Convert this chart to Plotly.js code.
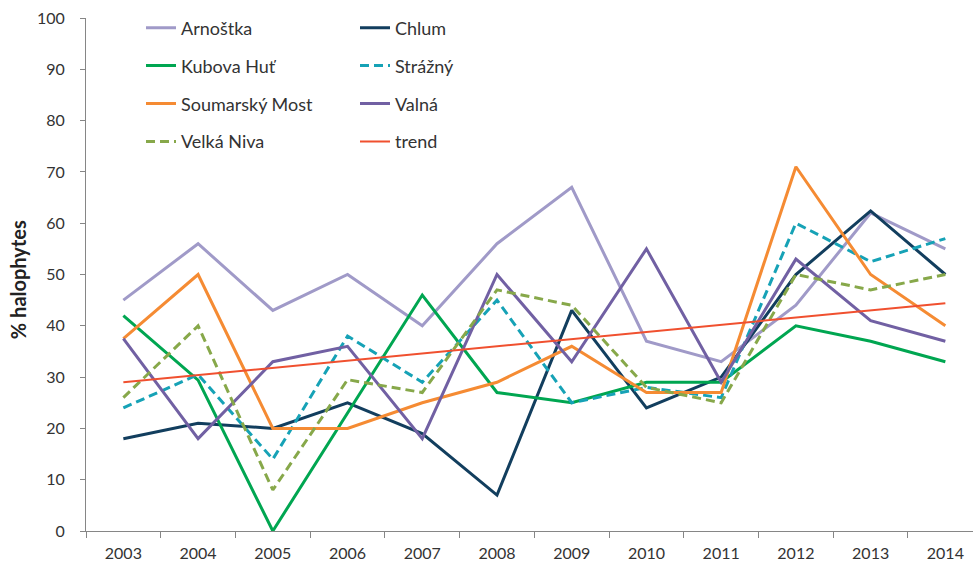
<!DOCTYPE html>
<html>
<head>
<meta charset="utf-8">
<script src="https://cdn.plot.ly/plotly-3.0.1.min.js"></script>
<style>html,body{margin:0;padding:0;background:#fff}#chart{width:973px;height:565px}</style>
</head>
<body>
<div id="chart"></div>
<script>
const years = ['2003','2004','2005','2006','2007','2008','2009','2010','2011','2012','2013','2014'];
const arnostka = [45, 56, 43, 50, 40, 56, 67, 37, 33, 44, 62, 55];
const chlum    = [18, 21, 20, 25, 19, 7, 43, 24, 30, 50, 62.4, 50];
const kubova   = [42, 29.4, 0, 23, 46, 27, 25, 29, 29, 40, 37, 33];
const strazny  = [24, 30.5, 14, 38, 29, 45, 25, 28, 26, 60, 52.5, 57];
const soumar   = [37.5, 50, 20, 20, 25, 29, 36, 27, 27, 71, 50, 40];
const valna    = [37.5, 18, 33, 36, 18, 50, 33, 55, 29, 53, 41, 37];
const velka    = [26, 40, 8, 29.5, 27, 47, 44, 28, 25, 50, 47, 50];
const trendYears = ['2003','2014'];
const trendVals  = [29, 44.4];

const names = ['Arnoštka','Chlum','Kubova Huť','Strážný','Soumarský Most','Valná','Velká Niva','trend'];
const colors = ['#A09AC8','#123E5E','#00A651','#16A2B6','#F58B33','#7160A3','#87A84A','#F0502F'];
const yTitle = '% halophytes';

const font = 'Lato, "Open Sans", sans-serif';
const series = [arnostka, chlum, kubova, strazny, soumar, valna, velka];
const dashed = {3: '9px,5px', 6: '9px,5px'};

const traces = series.map((vals, i) => ({
  type: 'scatter', mode: 'lines', x: years, y: vals, name: names[i],
  line: {color: colors[i], width: 3, dash: dashed[i] || 'solid'},
  legend: i % 2 === 0 ? 'legend' : 'legend2',
  legendgroup: 'g' + i
}));
traces.push({
  type: 'scatter', mode: 'lines', x: trendYears, y: trendVals, name: names[7],
  line: {color: colors[7], width: 2}, legend: 'legend2', legendgroup: 'g7'
});

const legendBase = {
  xref: 'container', yref: 'container', xanchor: 'left', yanchor: 'top',
  bgcolor: 'rgba(0,0,0,0)', font: {family: font, size: 18, color: '#333'},
  tracegroupgap: 11.5, orientation: 'v'
};

const layout = {
  width: 973, height: 565,
  margin: {l: 86, r: 0, t: 18, b: 34, autoexpand: false},
  paper_bgcolor: '#fff', plot_bgcolor: '#fff',
  font: {family: font, size: 16, color: '#333'},
  showlegend: true,
  legend: Object.assign({}, legendBase, {x: 141/973, y: 1 - 9.5/565}),
  legend2: Object.assign({}, legendBase, {x: 355/973, y: 1 - 9.5/565}),
  xaxis: {
    type: 'category', range: [-0.5, 11.37], showgrid: false, zeroline: false,
    showline: true, linecolor: '#868686', linewidth: 1, tickangle: 0,
    ticks: 'outside', tickson: 'boundaries', ticklen: 6, tickcolor: '#868686',
    ticklabelstandoff: 8,
    tickfont: {family: font, size: 16, color: '#333'}
  },
  yaxis: {
    range: [0, 100], dtick: 10, showgrid: false, zeroline: false,
    showline: true, linecolor: '#868686', linewidth: 1,
    ticks: 'outside', ticklen: 5, tickcolor: '#868686',
    ticklabelstandoff: 12,
    tickfont: {family: font, size: 16, color: '#333'}
  },
  annotations: [{
    text: '<b>' + yTitle + '</b>', xref: 'paper', yref: 'paper',
    x: (18 - 86) / 887, y: 0.489, xanchor: 'center', yanchor: 'middle', textangle: -90,
    showarrow: false, font: {family: font, size: 20, color: '#222'}
  }]
};

Plotly.newPlot('chart', traces, layout, {displayModeBar: false, staticPlot: true});
</script>
</body>
</html>
